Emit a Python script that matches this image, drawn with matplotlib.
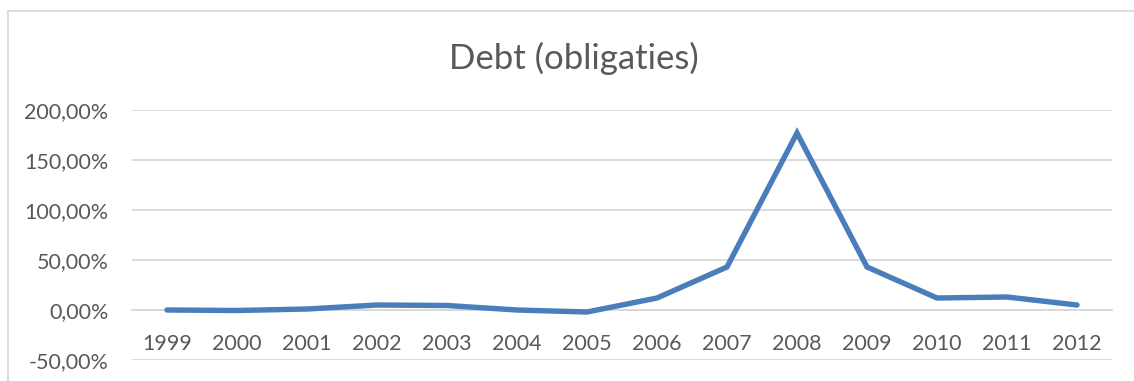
import numpy as np
import matplotlib.pyplot as plt
from matplotlib.lines import Line2D
from matplotlib.ticker import FuncFormatter

# ── Data ──────────────────────────────────────────────────────────────────────
years = ["1999", "2000", "2001", "2002", "2003", "2004", "2005",
         "2006", "2007", "2008", "2009", "2010", "2011", "2012"]
debt_pct = [0.0, -0.5, 1.0, 5.0, 4.5, 0.0, -2.0,
            12.0, 43.0, 177.0, 43.0, 12.0, 13.0, 5.0]
y_ticks = [-50, 0, 50, 100, 150, 200]

plt.rcParams["font.family"] = ["Lato", "DejaVu Sans"]
text_col = "#595959"
grid_col = "#D9D9D9"

W, H = 1134, 381
fig = plt.figure(figsize=(W / 100, H / 100), dpi=100)
ax = fig.add_axes([132 / W, 21 / H, (1112 - 132) / W, 250 / H])

x = np.arange(len(years))
ax.plot(x, debt_pct, color="#4A7EBB", linewidth=3.9,
        solid_capstyle="round", solid_joinstyle="miter", zorder=3)

ax.set_xlim(-0.5, len(years) - 0.5)
ax.set_ylim(-50, 200)
ax.set_yticks(y_ticks)
ax.yaxis.set_major_formatter(FuncFormatter(lambda v, p: f"{v:.2f}%".replace(".", ",")))
ax.set_xticks(x)
ax.set_xticklabels(years)

ax.grid(axis="y", color=grid_col, linewidth=1.3)
ax.set_axisbelow(True)
for s in ["top", "right", "left"]:
    ax.spines[s].set_visible(False)
ax.spines["bottom"].set_position(("data", 0))
ax.spines["bottom"].set_color(grid_col)
ax.spines["bottom"].set_linewidth(1.3)

ax.tick_params(axis="both", length=0, labelsize=15.5, labelcolor=text_col)
ax.tick_params(axis="x", pad=17)
ax.tick_params(axis="y", pad=17)

fig.text(574 / W, 1 - 58 / H, "Debt (obligaties)",
         ha="center", va="center", fontsize=25, color=text_col)

# chart border (cut off on right / bottom)
fig.add_artist(Line2D([7.5 / W, 1], [1 - 11 / H, 1 - 11 / H],
                      transform=fig.transFigure, color=grid_col, linewidth=1.3))
fig.add_artist(Line2D([7.5 / W, 7.5 / W], [0, 1 - 11 / H],
                      transform=fig.transFigure, color=grid_col, linewidth=1.3))

fig.savefig("out.png", dpi=100)
